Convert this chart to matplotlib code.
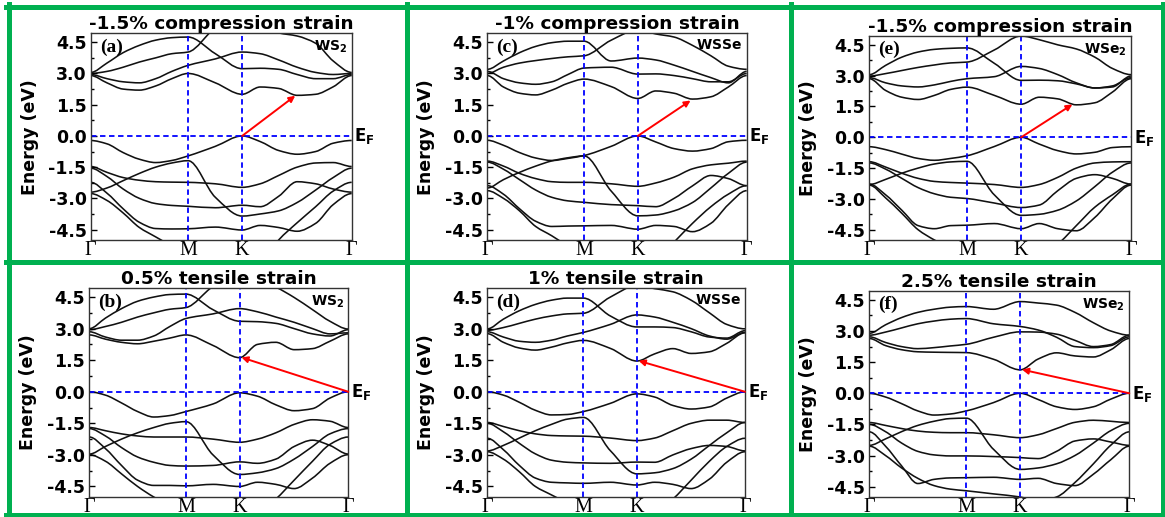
import numpy as np
import matplotlib.pyplot as plt
from matplotlib.path import Path
from matplotlib.patches import PathPatch
from matplotlib.lines import Line2D

plt.rcParams['font.family'] = ['DejaVu Sans']
plt.rcParams['mathtext.fontset'] = 'dejavusans'

W, H = 1165, 517

# ---------------- data ----------------
# k path: Gamma - M - K - Gamma, sample points where the energies were read
k_pts = [0, 0.167, 0.333, 0.5, 0.667, 0.833, 1.0, 1.28, 1.555,
         1.74, 1.93, 2.12, 2.31, 2.49, 2.68]
sym_pos = [0, 1.0, 1.555, 2.68]
sym_labels = ['Γ', 'M', 'K', 'Γ']

# (a) WS2, -1.5% compression
bands_a = [
    [3.05, 3.5, 4.0, 4.35, 4.6, 4.72, 4.75, 3.95, 3.23, 3.25, 3.2, 2.95, 2.75, 2.75, 2.95],
    [3.0, 3.1, 3.3, 3.55, 3.75, 3.95, 4.03, 5.2, 5.9, 5.3, 4.95, 4.8, 4.45, 3.6, 3.05],
    [2.95, 2.75, 2.6, 2.55, 2.75, 3.1, 3.39, 3.7, 4.03, 3.95, 3.65, 3.3, 3.05, 2.95, 3.0],
    [2.9, 2.55, 2.25, 2.2, 2.4, 2.75, 3.0, 2.55, 2.0, 2.35, 2.28, 1.95, 2.0, 2.36, 2.9],
    [-0.22, -0.38, -0.8, -1.12, -1.28, -1.18, -0.96, -0.5, 0.0, -0.27, -0.7, -0.88, -0.75, -0.35, -0.22],
    [-2.7, -2.5, -2.15, -1.8, -1.5, -1.3, -1.19, -2.95, -3.85, -3.75, -3.6, -3.2, -2.6, -2.0, -1.55],
    [-1.47, -1.75, -2.0, -2.13, -2.2, -2.22, -2.23, -2.3, -2.47, -2.3, -1.9, -1.5, -1.3, -1.28, -1.47],
    [-1.55, -1.95, -2.55, -3.0, -3.25, -3.34, -3.38, -3.45, -3.33, -3.4, -2.9, -2.2, -2.3, -2.55, -2.7],
    [-2.23, -2.75, -3.5, -4.15, -4.45, -4.47, -4.46, -4.38, -4.52, -4.3, -4.4, -4.58, -4.2, -3.3, -2.77],
    [-2.77, -3.1, -3.7, -4.4, -4.85, -5.3, -5.8, -6.0, -6.2, -6.2, -5.0, -4.17, -3.4, -2.65, -2.23],
]

# (b) WS2, 0.5% tensile
bands_b = [
    [3.0, 3.5, 3.95, 4.3, 4.5, 4.62, 4.64, 3.9, 3.35, 3.33, 3.25, 3.0, 2.75, 2.65, 2.95],
    [2.95, 3.1, 3.3, 3.55, 3.75, 3.92, 4.0, 5.0, 5.6, 5.3, 4.97, 4.48, 3.9, 3.35, 2.98],
    [2.85, 2.6, 2.45, 2.45, 2.65, 3.1, 3.48, 3.7, 3.95, 3.8, 3.55, 3.3, 3.0, 2.75, 2.8],
    [2.7, 2.5, 2.35, 2.28, 2.4, 2.55, 2.7, 2.2, 1.62, 2.25, 2.35, 2.0, 2.05, 2.4, 2.75],
    [0.0, -0.16, -0.53, -0.94, -1.2, -1.13, -0.94, -0.58, -0.05, -0.21, -0.62, -0.9, -0.8, -0.3, 0.0],
    [-2.96, -2.6, -2.25, -1.95, -1.7, -1.5, -1.42, -3.0, -3.93, -3.85, -3.65, -3.2, -2.6, -2.0, -1.75],
    [-1.7, -1.85, -2.0, -2.1, -2.15, -2.15, -2.15, -2.25, -2.4, -2.25, -1.95, -1.55, -1.33, -1.4, -1.7],
    [-1.75, -2.1, -2.65, -3.1, -3.35, -3.5, -3.53, -3.5, -3.33, -3.4, -3.2, -2.6, -2.3, -2.55, -2.96],
    [-2.15, -2.7, -3.5, -4.2, -4.45, -4.45, -4.47, -4.4, -4.5, -4.3, -4.4, -4.6, -4.1, -3.4, -2.99],
    [-2.99, -3.3, -3.9, -4.5, -5.0, -5.4, -5.8, -6.0, -6.0, -5.8, -5.1, -4.2, -3.3, -2.5, -2.15],
]

# (c) WSSe, -1% compression
bands_c = [
    [3.2, 3.6, 4.0, 4.3, 4.48, 4.55, 4.55, 3.6, 3.74, 3.65, 3.4, 3.1, 2.8, 2.55, 3.1],
    [3.0, 3.3, 3.5, 3.62, 3.72, 3.8, 3.85, 4.6, 5.1, 4.9, 4.75, 4.35, 3.85, 3.35, 3.2],
    [3.1, 2.75, 2.55, 2.48, 2.6, 2.95, 3.26, 3.3, 2.97, 2.98, 2.9, 2.75, 2.6, 2.6, 3.0],
    [2.9, 2.35, 2.05, 1.97, 2.2, 2.53, 2.73, 2.37, 1.8, 2.16, 2.05, 1.77, 1.88, 2.35, 2.9],
    [-0.21, -0.45, -0.8, -1.06, -1.18, -1.08, -0.94, -0.5, 0.0, -0.29, -0.61, -0.73, -0.61, -0.28, -0.21],
    [-2.5, -2.1, -1.75, -1.45, -1.2, -1.05, -0.96, -2.65, -3.84, -3.8, -3.6, -3.2, -2.5, -1.8, -1.26],
    [-1.21, -1.45, -1.8, -2.05, -2.2, -2.23, -2.23, -2.3, -2.42, -2.26, -1.98, -1.58, -1.39, -1.31, -1.21],
    [-1.26, -1.6, -2.1, -2.6, -2.95, -3.12, -3.19, -3.3, -3.35, -3.4, -3.0, -2.4, -1.9, -2.05, -2.39],
    [-2.39, -2.8, -3.5, -4.1, -4.35, -4.33, -4.32, -4.3, -4.48, -4.3, -4.35, -4.6, -4.2, -3.3, -2.63],
    [-2.63, -3.0, -3.6, -4.35, -4.8, -5.3, -5.8, -6.0, -6.2, -6.0, -5.1, -4.2, -3.4, -2.8, -2.39],
]

# (d) WSSe, 1% tensile
bands_d = [
    [2.99, 3.45, 3.85, 4.15, 4.35, 4.45, 4.45, 3.6, 3.08, 3.08, 3.05, 2.85, 2.6, 2.55, 2.9],
    [2.92, 3.05, 3.25, 3.45, 3.6, 3.7, 3.73, 4.5, 5.05, 4.9, 4.75, 4.35, 3.75, 3.2, 2.99],
    [2.85, 2.6, 2.4, 2.35, 2.45, 2.65, 2.82, 3.2, 3.65, 3.55, 3.3, 3.0, 2.65, 2.5, 2.82],
    [2.76, 2.35, 2.08, 1.98, 2.12, 2.32, 2.44, 2.06, 1.46, 1.8, 2.05, 1.82, 1.9, 2.3, 2.8],
    [0.0, -0.16, -0.5, -0.88, -1.1, -1.08, -0.94, -0.55, -0.1, -0.25, -0.65, -0.82, -0.72, -0.3, 0.0],
    [-2.81, -2.55, -2.2, -1.85, -1.55, -1.3, -1.22, -2.8, -3.9, -3.85, -3.65, -3.2, -2.55, -1.95, -1.46],
    [-1.46, -1.65, -1.85, -2.0, -2.08, -2.1, -2.11, -2.2, -2.32, -2.2, -1.85, -1.5, -1.35, -1.35, -1.46],
    [-1.5, -1.9, -2.45, -2.95, -3.25, -3.35, -3.38, -3.4, -3.34, -3.35, -3.0, -2.7, -2.55, -2.6, -2.81],
    [-2.21, -2.75, -3.5, -4.1, -4.3, -4.33, -4.35, -4.3, -4.43, -4.3, -4.4, -4.6, -4.15, -3.35, -2.85],
    [-2.85, -3.2, -3.8, -4.5, -4.9, -5.3, -5.8, -6.0, -6.0, -5.8, -5.1, -4.2, -3.3, -2.6, -2.21],
]

# (e) WSe2, -1.5% compression
bands_e = [
    [3.05, 3.5, 3.9, 4.15, 4.28, 4.33, 4.35, 3.6, 2.77, 2.78, 2.75, 2.6, 2.4, 2.45, 2.98],
    [2.98, 3.1, 3.25, 3.4, 3.52, 3.62, 3.66, 4.25, 4.93, 4.75, 4.5, 4.3, 3.9, 3.35, 3.05],
    [2.9, 2.65, 2.5, 2.45, 2.55, 2.72, 2.85, 2.95, 3.45, 3.35, 3.05, 2.65, 2.4, 2.5, 2.9],
    [2.85, 2.28, 1.95, 1.84, 2.04, 2.33, 2.44, 2.04, 1.61, 1.95, 1.87, 1.58, 1.68, 2.2, 2.85],
    [-0.46, -0.6, -0.82, -1.03, -1.12, -1.03, -0.9, -0.45, 0.0, -0.33, -0.65, -0.81, -0.73, -0.5, -0.46],
    [-2.3, -2.05, -1.75, -1.5, -1.3, -1.2, -1.17, -2.8, -3.8, -3.75, -3.55, -3.1, -2.4, -1.7, -1.25],
    [-1.19, -1.45, -1.75, -2.0, -2.15, -2.2, -2.23, -2.3, -2.44, -2.3, -1.95, -1.5, -1.25, -1.2, -1.19],
    [-1.25, -1.55, -2.0, -2.45, -2.75, -2.92, -2.98, -3.2, -3.42, -3.3, -2.6, -2.0, -1.82, -2.0, -2.28],
    [-2.28, -2.8, -3.55, -4.3, -4.45, -4.3, -4.28, -4.2, -4.45, -4.2, -4.45, -4.55, -3.9, -3.0, -2.33],
    [-2.33, -2.95, -3.7, -4.5, -5.0, -5.4, -5.8, -6.0, -6.0, -5.8, -5.2, -4.3, -3.4, -2.8, -2.28],
]

# (f) WSe2, 2.5% tensile
bands_f = [
    [2.89, 3.3, 3.65, 3.9, 4.05, 4.15, 4.18, 4.05, 4.42, 4.35, 4.25, 3.9, 3.4, 3.0, 2.8],
    [2.8, 2.95, 3.15, 3.35, 3.48, 3.57, 3.6, 3.35, 3.22, 3.05, 2.7, 2.25, 2.2, 2.3, 2.72],
    [2.72, 2.45, 2.25, 2.15, 2.2, 2.28, 2.36, 2.7, 2.96, 2.95, 2.85, 2.55, 2.25, 2.35, 2.8],
    [2.64, 2.3, 2.1, 2.0, 1.98, 1.97, 1.96, 1.64, 1.13, 1.65, 1.95, 1.8, 1.75, 2.1, 2.64],
    [0.0, -0.18, -0.5, -0.85, -1.05, -1.0, -0.85, -0.45, 0.0, -0.3, -0.65, -0.78, -0.65, -0.28, 0.0],
    [-2.51, -2.2, -1.85, -1.55, -1.35, -1.22, -1.2, -2.7, -3.67, -3.6, -3.4, -3.0, -2.4, -1.8, -1.45],
    [-1.41, -1.55, -1.7, -1.82, -1.88, -1.9, -1.9, -2.0, -2.14, -2.0, -1.7, -1.4, -1.3, -1.35, -1.41],
    [-1.5, -1.85, -2.4, -2.8, -2.97, -3.02, -3.02, -3.05, -3.1, -3.15, -2.8, -2.3, -2.2, -2.35, -2.51],
    [-1.86, -2.55, -3.5, -4.35, -4.15, -4.08, -4.07, -4.05, -4.15, -4.1, -4.35, -4.45, -3.9, -3.2, -2.55],
    [-2.55, -3.0, -3.6, -4.1, -4.45, -4.62, -4.7, -4.85, -5.0, -5.2, -5.0, -4.3, -3.4, -2.5, -1.86],
]

titles = ['-1.5% compression strain', '0.5% tensile strain',
          '-1% compression strain', '1% tensile strain',
          '-1.5% compression strain', '2.5% tensile strain']
panel_tags = ['(a)', '(b)', '(c)', '(d)', '(e)', '(f)']
materials = [r'$\mathbf{WS_2}$', r'$\mathbf{WS_2}$', r'$\mathbf{WSSe}$',
             r'$\mathbf{WSSe}$', r'$\mathbf{WSe_2}$', r'$\mathbf{WSe_2}$']
all_bands = [bands_a, bands_b, bands_c, bands_d, bands_e, bands_f]

# red arrows: (start k, start E) -> (end k, end E)
arrow_start = [(1.555, 0.0), (2.68, 0.0), (1.555, 0.0), (2.68, 0.0), (1.555, 0.0), (2.68, 0.0)]
arrow_end = [(2.1, 1.93), (1.575, 1.63), (2.1, 1.7), (1.575, 1.47), (2.08, 1.6), (1.575, 1.14)]

# axes boxes in pixels (left, right, top, bottom)
boxes = [(90.7, 351.7, 33.3, 240), (89.3, 348.3, 288, 497),
         (487.3, 746.7, 33.3, 240), (487.3, 745, 288, 497),
         (869.3, 1131, 36, 240), (869.3, 1129.3, 291, 497)]


def band_path(x, y):
    # cubic Hermite (pchip slopes) drawn as Bezier segments through the read points
    x = np.asarray(x, float)
    y = np.asarray(y, float)
    h = np.diff(x)
    d = np.diff(y) / h
    m = np.zeros_like(y)
    for i in range(1, len(x) - 1):
        if d[i - 1] * d[i] > 0:
            w1 = 2 * h[i] + h[i - 1]
            w2 = h[i] + 2 * h[i - 1]
            m[i] = (w1 + w2) / (w1 / d[i - 1] + w2 / d[i])
    verts = [(x[0], y[0])]
    codes = [Path.MOVETO]
    for i in range(len(x) - 1):
        verts += [(x[i] + h[i] / 3, y[i] + m[i] * h[i] / 3),
                  (x[i + 1] - h[i] / 3, y[i + 1] - m[i + 1] * h[i] / 3),
                  (x[i + 1], y[i + 1])]
        codes += [Path.CURVE4] * 3
    return Path(verts, codes)


fig = plt.figure(figsize=(W / 100, H / 100), dpi=100)

for i in range(6):
    l, r, t, b = boxes[i]
    ax = fig.add_axes([l / W, 1 - b / H, (r - l) / W, (b - t) / H])
    for band in all_bands[i]:
        ax.add_patch(PathPatch(band_path(k_pts, band), fill=False,
                               edgecolor='#111111', lw=1.15))
    ax.axhline(0, color='#0000ff', ls=(0, (3, 2)), lw=1.3)
    for xv in sym_pos[1:3]:
        ax.axvline(xv, color='#0000ff', ls=(0, (3, 2)), lw=1.3)
    ax.annotate('', xy=arrow_end[i], xytext=arrow_start[i],
                arrowprops=dict(arrowstyle='-|>', color='red', lw=1.4,
                                mutation_scale=9, shrinkA=0, shrinkB=0))

    ax.set_xlim(0, 2.68)
    ax.set_ylim(-5.0, 4.93)
    ax.set_xticks(sym_pos)
    ax.set_xticklabels(sym_labels, fontfamily='Liberation Serif', fontsize=14.5)
    ax.tick_params(axis='x', length=0, pad=1)
    ax.set_yticks([-4.5, -3.0, -1.5, 0.0, 1.5, 3.0, 4.5])
    ax.set_yticklabels(['-4.5', '-3.0', '-1.5', '0.0', '1.5', '3.0', '4.5'],
                       fontweight='bold', fontsize=12.5)
    ax.set_yticks([-3.75, -2.25, -0.75, 0.75, 2.25, 3.75], minor=True)
    ax.tick_params(axis='y', which='major', direction='in', length=4, width=1, pad=3)
    ax.tick_params(axis='y', which='minor', direction='in', length=2.5, width=1)
    for sp in ax.spines.values():
        sp.set_linewidth(1.0)
        sp.set_color('#333333')
    ax.set_ylabel('Energy (eV)', fontweight='bold', fontsize=12.5, labelpad=7)
    ax.set_title(titles[i], fontweight='bold', fontsize=13.3, pad=3)

    ax.text(0.035, 0.975, panel_tags[i], transform=ax.transAxes, ha='left', va='top',
            fontfamily='Liberation Serif', fontweight='bold', fontsize=14)
    ax.text(0.983, 0.975, materials[i], transform=ax.transAxes, ha='right', va='top',
            fontsize=10)
    ax.annotate(r'$\mathbf{E_F}$', xy=(1, 0), xycoords=('axes fraction', 'data'),
                xytext=(2, -4), textcoords='offset points', ha='left', va='baseline',
                fontsize=12, annotation_clip=False)

# green frames
green = '#00b050'
lw_g = 3.6
for yy in [6.5, 262, 515]:
    fig.add_artist(Line2D([6 / W, 1], [1 - yy / H, 1 - yy / H], color=green, lw=lw_g))
for xx in [8.5, 406.5, 790.5, 1162.5]:
    fig.add_artist(Line2D([xx / W, xx / W], [1 - 4 / H, 1 - 517 / H], color=green, lw=lw_g))

fig.savefig('out.png', dpi=100)
